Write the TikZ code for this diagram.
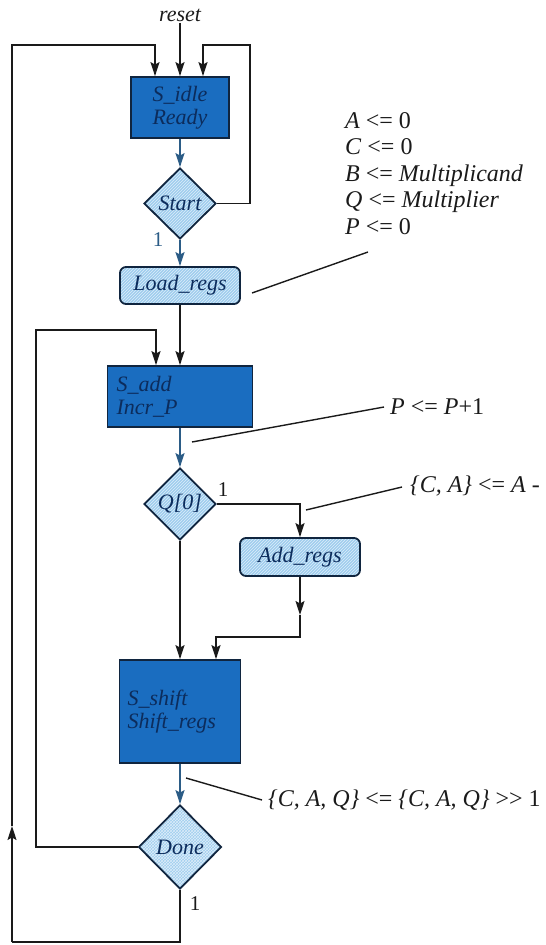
\documentclass[tikz,border=0pt]{standalone}
\usepackage{fontspec}
\setmainfont{Liberation Serif}
\usetikzlibrary{shapes.geometric,arrows.meta,patterns}
\definecolor{darkbox}{HTML}{1A6DC0}
\definecolor{lightbox}{HTML}{9FCDEE}
\definecolor{navy}{HTML}{0C2C5C}
\definecolor{edgec}{HTML}{10253F}
\definecolor{wire}{HTML}{1A1A1A}
\definecolor{bluewire}{HTML}{2B5C86}
\begin{document}
\begin{tikzpicture}[x=1pt,y=-1pt,
  lbl/.style={font=\fontsize{22}{23}\selectfont\itshape, text=navy},
  darkstate/.style={rectangle, draw=edgec, line width=1.8pt, fill=darkbox, lbl, inner sep=0pt},
  lightpat/.style={draw=edgec, line width=1.8pt, preaction={fill=lightbox}, pattern=north east lines, pattern color=white!65!lightbox, lbl},
  decbox/.style={diamond, lightpat, inner sep=0pt, aspect=1},
  condbox/.style={rectangle, rounded corners=6pt, lightpat, inner sep=0pt},
  wirestyle/.style={line width=1.4pt, draw=wire},
  arr/.style={wirestyle, -{Stealth[length=14pt,width=9pt,inset=2.5pt]}},
  barr/.style={arr, draw=bluewire},
  note/.style={font=\fontsize{24}{26.5}\selectfont, anchor=west, inner sep=0pt, align=left, text=wire},
  noteline/.style={line width=1.4pt, draw=wire},
  onelbl/.style={font=\fontsize{21}{24}\selectfont, inner sep=0pt, text=wire}
]
\useasboundingbox (0,0) rectangle (546,945);

% nodes
\node[lbl, text=wire, inner sep=1pt] (reset) at (180,15) {reset};
\node[darkstate, minimum width=98pt, minimum height=61pt, align=center] (sidle) at (180,107.5) {S\_idle\\Ready};
\node[decbox, minimum width=72pt, minimum height=71pt] (start) at (180,203.5) {Start};
\node[condbox, minimum width=120pt, minimum height=37pt] (load) at (180,285.5) {Load\_regs};
\node[darkstate, minimum width=145pt, minimum height=61pt, text width=127pt, align=left] (sadd) at (180,396.5) {S\_add\\Incr\_P};
\node[decbox, minimum width=72pt, minimum height=72pt] (q0) at (180,504) {Q[0]};
\node[condbox, minimum width=120pt, minimum height=38pt] (addr) at (300,557) {Add\_regs};
\node[darkstate, minimum width=121pt, minimum height=103pt, text width=105pt, align=left] (sshift) at (180,711.5) {S\_shift\\Shift\_regs};
\node[decbox, pattern=crosshatch, minimum width=83pt, minimum height=84pt] (done) at (180,847) {Done};

\node[onelbl, text=bluewire] (one1) at (158,240) {1};
\node[onelbl] (one2) at (223,490) {1};
\node[onelbl] (one3) at (195,904) {1};

% helper coordinates
\coordinate (obl) at (12,942);
\coordinate (oup) at (12,826);
\coordinate (otl) at (12,45);
\coordinate (rtr) at (250,45);
\coordinate (itl) at (36,330);
\coordinate (adm) at (300,615);
\coordinate (adb) at (300,637);

% connectors
\draw[arr] (reset) -- (sidle.north);
\draw[wirestyle] (done.south) |- (obl);
\draw[arr] (obl) -- (oup);
\draw[arr] (oup) -- (otl) -| ([xshift=-25pt]sidle.north);
\draw[arr] (start.east) -| (rtr) -| ([xshift=23pt]sidle.north);
\draw[barr] (sidle) -- (start);
\draw[barr] (start) -- (load);
\draw[arr] (load) -- (sadd);
\draw[arr] (done.west) -| (itl) -| ([xshift=-24pt]sadd.north);
\draw[barr] (sadd) -- (q0);
\draw[arr] (q0.east) -| (addr.north);
\draw[arr] (q0) -- (sshift);
\draw[arr] (addr.south) -- (adm);
\draw[arr] (adm) -- (adb) -| ([xshift=36pt]sshift.north);
\draw[barr] (sshift) -- (done);

% annotations
\node[note, anchor=north west] (loadnote) at (345,112)
  {\textit{A} <= 0\\ \textit{C} <= 0\\ \textit{B} <= \textit{Multiplicand}\\ \textit{Q} <= \textit{Multiplier}\\ \textit{P} <= 0};
\coordinate (ln1) at (252,293);
\coordinate (ln2) at (368,252);
\draw[noteline] (ln1) -- (ln2);

\node[note] (pnote) at (390,407) {\textit{P} <= \textit{P}+1};
\coordinate (pn1) at (192,442);
\draw[noteline] (pn1) -- ([xshift=-6pt]pnote.west);

\node[note] (canote) at (410,486) {\textit{\{C, A\}} <= \textit{A} -};
\coordinate (ca1) at (306,510);
\draw[noteline] (ca1) -- ([xshift=-8pt,yshift=-1pt]canote.west);

\node[note] (caqnote) at (268,800) {\textit{\{C, A, Q\}} <= \textit{\{C, A, Q\}} >{}> 1};
\coordinate (cq1) at (186,778);
\draw[noteline] (cq1) -- ([xshift=-6pt]caqnote.west);
\end{tikzpicture}
\end{document}
